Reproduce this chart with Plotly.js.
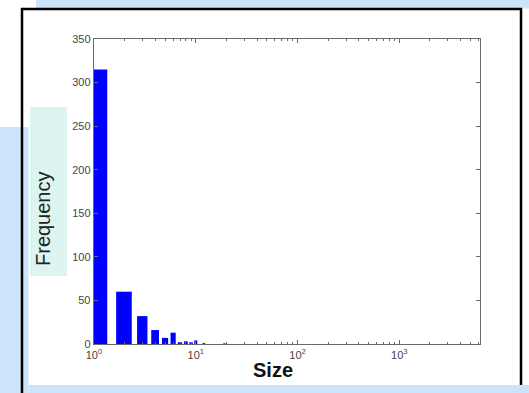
<!DOCTYPE html>
<html>
<head>
<meta charset="utf-8">
<script src="https://cdn.plot.ly/plotly-3.0.1.min.js"></script>
<style>html,body{margin:0;padding:0;background:#fff;}#chart{width:529px;height:393px;}</style>
</head>
<body>
<div id="chart"></div>
<script>
// Data
var sizes = [1, 2, 3, 4, 5, 6, 7, 8, 9, 10, 12, 19, 20];
var frequency = [315, 60, 32, 16, 7, 13, 2, 3, 2, 4, 1, 1, 1];
var xTickVals = [1, 10, 100, 1000];
var xTickText = ['10<sup>0</sup>', '10<sup>1</sup>', '10<sup>2</sup>', '10<sup>3</sup>'];
var yTickVals = [0, 50, 100, 150, 200, 250, 300, 350];

var W = 529, H = 393, L = 94, R = 49, T = 39, B = 49;
function px(x) { return (x - L) / (W - L - R); }
function py(y) { return 1 - (y - T) / (H - T - B); }

var minorVals = [];
for (var d = 0; d < 4; d++) {
  for (var k = 2; k <= 9; k++) {
    var v = k * Math.pow(10, d);
    if (v <= 6000) minorVals.push(v);
  }
}

var blue = 'rgb(204,228,250)';
var shapes = [
  {type:'rect', xref:'paper', yref:'paper', x0:px(36), x1:px(529), y0:py(0), y1:py(8.5), fillcolor:blue, line:{width:0}, layer:'below'},
  {type:'rect', xref:'paper', yref:'paper', x0:px(0), x1:px(28.5), y0:py(127), y1:py(393), fillcolor:blue, line:{width:0}, layer:'below'},
  {type:'rect', xref:'paper', yref:'paper', x0:px(28.5), x1:px(529), y0:py(385), y1:py(393), fillcolor:blue, line:{width:0}, layer:'below'},
  {type:'rect', xref:'paper', yref:'paper', x0:px(30), x1:px(67), y0:py(107), y1:py(276), fillcolor:'rgb(220,245,240)', line:{width:0}, layer:'below'},
  {type:'line', xref:'paper', yref:'paper', x0:px(22), x1:px(22), y0:py(8), y1:py(393), line:{color:'#000', width:2.5}},
  {type:'line', xref:'paper', yref:'paper', x0:px(21), x1:px(522), y0:py(9), y1:py(9), line:{color:'#000', width:2.5}},
  {type:'line', xref:'paper', yref:'paper', x0:px(521), x1:px(521), y0:py(8), y1:py(385), line:{color:'#000', width:2.5}}
];

var annotations = [
  {xref:'paper', yref:'paper', x:px(43), y:py(219), text:'Frequency', showarrow:false, textangle:-90,
   font:{family:'Liberation Sans, Arial, sans-serif', size:20, color:'#222'}, xanchor:'center', yanchor:'middle'},
  {xref:'paper', yref:'paper', x:px(273), y:py(370), text:'<b>Size</b>', showarrow:false,
   font:{family:'Liberation Sans, Arial, sans-serif', size:20, color:'#111'}, xanchor:'center', yanchor:'middle'}
];

var trace = {
  type:'bar', x:sizes, y:frequency,
  marker:{color:'rgb(0,0,255)', line:{width:0}},
  hoverinfo:'x+y'
};

var axisCommon = {
  showline:true, linecolor:'#6a6a6a', linewidth:1.3, mirror:'ticks',
  ticks:'inside', tickcolor:'#6a6a6a', tickwidth:1, showgrid:false, zeroline:false,
  tickfont:{family:'Liberation Sans, Arial, sans-serif', size:11, color:'#444'}
};

var layout = {
  width:W, height:H,
  margin:{l:L, r:R, t:T, b:B, pad:0},
  paper_bgcolor:'#fff', plot_bgcolor:'#fff',
  bargap:0.3, showlegend:false,
  xaxis: Object.assign({}, axisCommon, {
    type:'log', range:[0, Math.log10(6200)],
    tickmode:'array', tickvals:xTickVals, ticktext:xTickText, ticklen:4,
    minor:{tickmode:'array', tickvals:minorVals, ticks:'inside', ticklen:2, tickcolor:'#6a6a6a', tickwidth:1, showgrid:false}
  }),
  yaxis: Object.assign({}, axisCommon, {
    range:[0, 350], tickmode:'array', tickvals:yTickVals, ticklen:4
  }),
  shapes:shapes, annotations:annotations
};

Plotly.newPlot('chart', [trace], layout, {displayModeBar:false, staticPlot:true});
</script>
</body>
</html>
